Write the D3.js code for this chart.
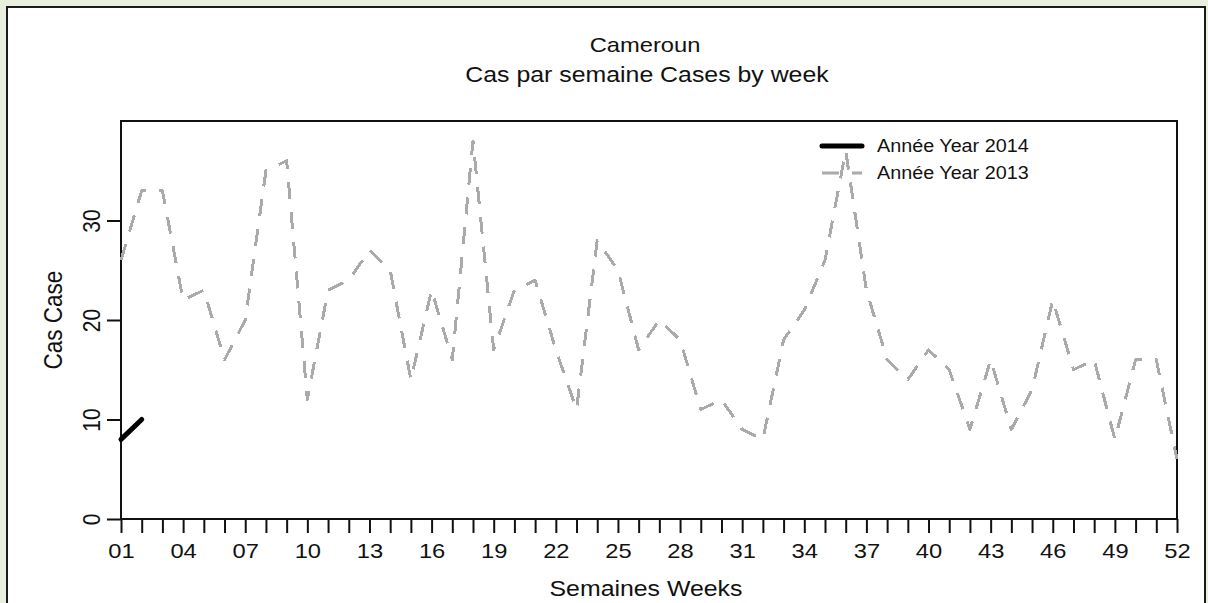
<!DOCTYPE html>
<html>
<head>
<meta charset="utf-8">
<script src="https://cdn.jsdelivr.net/npm/d3@7"></script>
<style>
  html, body { margin: 0; padding: 0; background: #e8f0dd; }
  svg { display: block; }
  text { font-family: "Liberation Sans", Arial, sans-serif; fill: #111; }
</style>
</head>
<body>
<div id="chart"></div>
<script>
// weekly cases, Cameroun
const cases2013 = [26, 33, 33, 22, 23, 16, 20, 35, 36, 12, 23, 24, 27, 25, 14, 23, 16, 38, 17, 23,
  24, 17, 11, 28, 25, 17, 20, 18, 11, 12, 9, 8, 18, 21, 26, 37, 23, 16, 14, 17,
  15, 9, 16, 9, 13, 22, 15, 16, 8, 16, 16, 6];
const cases2014 = [8, 10];
const yTicks = [0, 10, 20, 30];
const xLabels = ["01", "04", "07", "10", "13", "16", "19", "22", "25", "28", "31", "34", "37", "40", "43", "46", "49", "52"];
const legendLabels = ["Année Year 2014", "Année Year 2013"];

const width = 1208, height = 603;
const margin = {left: 121, right: 30, top: 121, bottom: 84};
const sx = 1.13; // the picture is a bit wider than tall, text too
const fs = 21;

const svg = d3.select("#chart").append("svg")
  .attr("width", width)
  .attr("height", height);

// white panel
svg.append("rect")
  .attr("x", 7).attr("y", 7)
  .attr("width", 1198).attr("height", 610)
  .attr("fill", "white")
  .attr("stroke", "#1a1a1a")
  .attr("stroke-width", 2);

const x = d3.scaleLinear().domain([1, 52]).range([margin.left, width - margin.right - 1]);
const y = d3.scaleLinear().domain([0, 40]).range([height - margin.bottom, margin.top]);

function putText(px, py, str, size, rot) {
  return svg.append("text")
    .attr("text-anchor", "middle")
    .attr("transform", `translate(${px},${py}) scale(${sx},1)` + (rot ? " rotate(-90)" : ""))
    .style("font-size", size + "px")
    .text(str);
}

// titles
const cx = (x.range()[0] + x.range()[1]) / 2;
putText(cx - 4, 52, "Cameroun", fs);
putText(cx - 2, 82, "Cas par semaine Cases by week", 22);
putText(cx - 3, 596, "Semaines Weeks", 22);
putText(62, (y(0) + y(40)) / 2, "Cas Case", 22.5, true);

// x axis
const xAxis = d3.axisBottom(x)
  .tickValues(cases2013.map((d, i) => i + 1))
  .tickSize(14)
  .tickSizeOuter(0)
  .tickFormat(w => {
    const lab = String(w).padStart(2, "0");
    return xLabels.includes(lab) ? lab : "";
  });

const gx = svg.append("g")
  .attr("transform", `translate(0,${y(0)})`)
  .call(xAxis);
gx.select(".domain").remove();
gx.selectAll(".tick line").attr("stroke", "#111").attr("stroke-width", 2);
gx.selectAll(".tick text")
  .attr("y", 0).attr("dy", null)
  .attr("transform", `translate(0,39) scale(${sx},1)`)
  .attr("fill", "#111")
  .style("font-size", fs + "px")
  .style("font-family", "Liberation Sans, Arial, sans-serif");

// y axis
const yAxis = d3.axisLeft(y)
  .tickValues(yTicks)
  .tickSize(14)
  .tickSizeOuter(0);

const gy = svg.append("g")
  .attr("transform", `translate(${x(1)},0)`)
  .call(yAxis);
gy.select(".domain").remove();
gy.selectAll(".tick line").attr("stroke", "#111").attr("stroke-width", 2);
gy.selectAll(".tick text")
  .attr("x", 0).attr("y", 0).attr("dy", null)
  .attr("text-anchor", "middle")
  .attr("transform", `translate(-21,0) scale(${sx},1) rotate(-90)`)
  .attr("fill", "#111")
  .style("font-size", fs + "px")
  .style("font-family", "Liberation Sans, Arial, sans-serif");

// plot box
svg.append("rect")
  .attr("x", x(1)).attr("y", y(40))
  .attr("width", x(52) - x(1))
  .attr("height", y(0) - y(40))
  .attr("fill", "none")
  .attr("stroke", "#111")
  .attr("stroke-width", 2);

const line = d3.line()
  .x((d, i) => x(i + 1))
  .y(d => y(d));

svg.append("path")
  .datum(cases2013)
  .attr("d", line)
  .attr("fill", "none")
  .attr("stroke", "#aaaaaa")
  .attr("stroke-width", 3)
  .attr("stroke-dasharray", "17,13")
  .attr("stroke-linejoin", "round")
  .style("shape-rendering", "crispEdges");

svg.append("path")
  .datum(cases2014)
  .attr("d", line)
  .attr("fill", "none")
  .attr("stroke", "black")
  .attr("stroke-width", 5)
  .attr("stroke-linecap", "round");

// legend
const legend = svg.append("g").attr("transform", "translate(822,146)");
const styles = [
  {stroke: "black", w: 5, dash: null, cap: "round"},
  {stroke: "#aaaaaa", w: 3, dash: "17,13", cap: "butt"}
];
legendLabels.forEach((lab, i) => {
  const row = legend.append("g").attr("transform", `translate(0,${i * 27})`);
  row.append("line")
    .attr("x1", 0).attr("x2", 40)
    .attr("y1", 0).attr("y2", 0)
    .attr("stroke", styles[i].stroke)
    .attr("stroke-width", styles[i].w)
    .attr("stroke-linecap", styles[i].cap)
    .attr("stroke-dasharray", styles[i].dash);
  row.append("text")
    .attr("transform", `translate(55,6) scale(${sx},1)`)
    .style("font-size", "17.5px")
    .text(lab);
});
</script>
</body>
</html>
